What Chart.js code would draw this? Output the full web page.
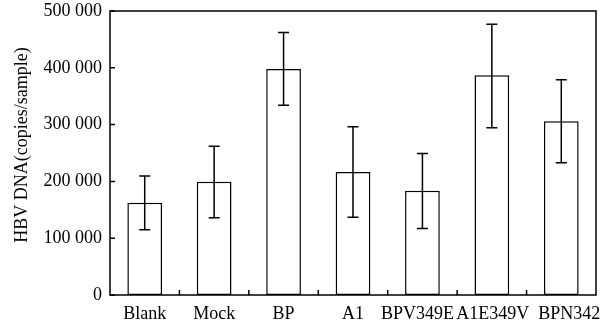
<!DOCTYPE html>
<html>
<head>
<meta charset="utf-8">
<script src="https://cdn.jsdelivr.net/npm/chart.js@4/dist/chart.umd.min.js"></script>
<style>
html,body{margin:0;padding:0;background:#fff;}
#wrap{width:612px;height:325px;position:relative;}
</style>
</head>
<body>
<div id="wrap"><canvas id="c" width="612" height="325"></canvas></div>
<script>
const categories = ["Blank", "Mock", "BP", "A1", "BPV349E", "A1E349V", "BPN342"];
const meanValues = [162500, 199500, 398000, 216500, 183600, 386700, 305800];
const errorUpper = [209500, 262000, 462000, 296000, 249000, 476500, 379000];
const errorLower = [115000, 136000, 334000, 137000, 117000, 294600, 233000];
const yTicks = [0, 100000, 200000, 300000, 400000, 500000];
const yTitle = "HBV DNA(copies/sample)";

const FONT = "'Liberation Serif', 'Times New Roman', serif";
// small horizontal nudges so long labels do not collide (style only)
const labelNudge = [0, 0, 0, 0, -5, 1, 8];

function fmt(v){ return String(v).replace(/\B(?=(\d{3})+(?!\d))/g, " "); }

const framePlugin = {
  id: 'frame',
  afterDatasetsDraw(chart){
    const {ctx, chartArea:a, scales} = chart;
    const x = scales.x, y = scales.y;
    ctx.save();
    ctx.strokeStyle = '#000';
    ctx.lineWidth = 1.5;
    const meta = chart.getDatasetMeta(0);
    meta.data.forEach((el, i) => {
      const px = el.x;
      const yu = y.getPixelForValue(errorUpper[i]);
      const yl = y.getPixelForValue(errorLower[i]);
      ctx.beginPath();
      ctx.moveTo(px, yu); ctx.lineTo(px, yl);
      ctx.moveTo(px-5.5, yu); ctx.lineTo(px+5.5, yu);
      ctx.moveTo(px-5.5, yl); ctx.lineTo(px+5.5, yl);
      ctx.stroke();
    });
    ctx.strokeRect(a.left, a.top, a.right-a.left, a.bottom-a.top);
    ctx.beginPath();
    yTicks.forEach(v => {
      const py = y.getPixelForValue(v);
      ctx.moveTo(a.left, py); ctx.lineTo(a.left+5, py);
    });
    for (let i = 0; i < categories.length-1; i++) {
      const px = (x.getPixelForValue(i) + x.getPixelForValue(i+1))/2;
      ctx.moveTo(px, a.bottom); ctx.lineTo(px, a.bottom-5);
    }
    ctx.stroke();
    ctx.fillStyle = '#000';
    ctx.font = "18px " + FONT;
    ctx.textAlign = 'center';
    ctx.textBaseline = 'middle';
    categories.forEach((c, i) => {
      ctx.fillText(c, x.getPixelForValue(i) + labelNudge[i], a.bottom + 19);
    });
    ctx.translate(22, 145);
    ctx.rotate(-Math.PI/2);
    ctx.fillText(yTitle, 0, 0);
    ctx.restore();
  }
};

new Chart(document.getElementById('c'), {
  type: 'bar',
  data: {
    labels: categories,
    datasets: [{
      data: meanValues,
      backgroundColor: '#fff',
      borderColor: '#000',
      borderWidth: 1.5,
      borderSkipped: false,
      categoryPercentage: 1.0,
      barPercentage: 0.5
    }]
  },
  options: {
    responsive: false,
    animation: false,
    devicePixelRatio: 1,
    layout: { padding: { left: 0, top: 11, right: 16, bottom: 0 } },
    plugins: { legend: { display: false }, tooltip: { enabled: false } },
    scales: {
      x: {
        grid: { display: false, drawTicks: false },
        border: { display: false },
        ticks: { display: false },
        afterFit(s){ s.height = 30; s.paddingLeft = 0; s.paddingRight = 0; }
      },
      y: {
        min: 0, max: 500000,
        afterBuildTicks(s){ s.ticks = yTicks.map(v => ({value: v})); },
        grid: { display: false, drawTicks: false },
        border: { display: false },
        ticks: { color: '#000', font: { family: FONT, size: 18 }, padding: 8, callback: v => fmt(v) },
        afterFit(s){ s.width = 110; s.paddingTop = 0; s.paddingBottom = 0; }
      }
    }
  },
  plugins: [framePlugin]
});
</script>
</body>
</html>
